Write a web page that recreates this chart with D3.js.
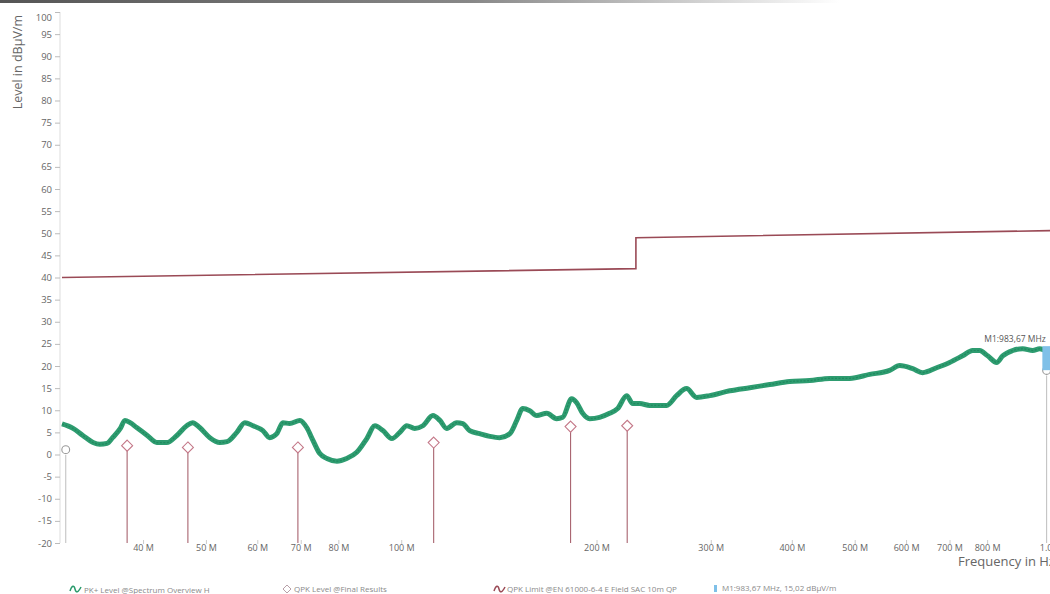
<!DOCTYPE html>
<html><head><meta charset="utf-8">
<script src="https://cdn.jsdelivr.net/npm/d3@7"></script>
<style>
html,body{margin:0;padding:0;background:#fff;overflow:hidden}
text{font-family:"Open Sans","Noto Sans",sans-serif}
</style></head>
<body><svg id="c" width="1050" height="594"></svg>
<script>
// ---- data ----
const traceFreq = [30.0,31.2,32.3,33.5,34.3,35.2,35.9,36.9,37.5,38.2,39.1,40.6,42.0,43.5,45.1,46.7,47.7,48.9,50.7,52.5,53.9,55.8,57.4,59.1,61.2,62.7,64.3,65.7,67.3,69.8,71.5,73.1,74.9,76.8,79.6,82.4,85.4,88.5,91.1,93.7,96.7,99.5,102.0,104.9,108.0,111.9,114.7,117.5,121.8,124.4,127.5,132.1,136.9,141.8,147.0,150.7,153.9,157.8,161.7,167.6,173.6,177.4,183.1,186.4,190.4,195.2,202.2,209.5,215.6,222.6,227.4,233.1,241.5,250.2,256.5,265.7,275.3,285.3,298.9,320.9,344.5,369.8,397.0,426.2,457.5,491.1,527.3,566.0,586.5,614.2,636.3,668.7,700.2,733.2,759.9,779.1,801.6,827.6,845.4,876.0,907.7,940.6,964.2,988.5,1000];
const traceLevel = [6.9,5.9,4.3,2.7,2.3,2.5,3.8,5.9,7.7,7.2,6.1,4.3,2.7,2.7,4.3,6.5,7.2,6.1,3.8,2.7,2.9,5.0,7.2,6.5,5.4,3.8,4.7,7.2,7.0,7.7,6.1,3.2,0.2,-0.9,-1.5,-0.9,0.5,3.6,6.5,5.4,3.6,5.0,6.5,5.9,6.5,8.8,7.7,5.9,7.2,7.0,5.4,4.7,4.1,3.8,4.7,7.7,10.4,9.9,8.8,9.3,8.1,8.4,12.6,11.7,9.3,8.1,8.4,9.3,10.4,13.3,11.5,11.5,11.1,11.1,11.1,13.3,14.9,12.9,13.3,14.4,15.1,15.8,16.5,16.7,17.2,17.2,18.1,19.0,20.1,19.4,18.5,19.6,20.8,22.3,23.5,23.5,22.3,20.8,22.3,23.5,23.9,23.5,23.9,23.5,23.6];
const limitFreq = [30, 230, 230, 1000];
const limitLevel = [40, 42, 49, 50.6];
const qpkFreq = [30.4, 37.8, 46.9, 69.3, 112.2, 182.4, 223.0, 988.0];
const qpkLevel = [1.1, 2.0, 1.6, 1.6, 2.7, 6.3, 6.5, 19.0];
const qpkHighlight = [true, false, false, false, false, false, false, true];
const markerFreq = 983.67;
const markerLabel = "M1:983,67 MHz";
const yTicks = [100,95,90,85,80,75,70,65,60,55,50,45,40,35,30,25,20,15,10,5,0,-5,-10,-15,-20];
const xTicks = [40,50,60,70,80,100,200,300,400,500,600,700,800,1000];
const xTickLabels = ["40 M","50 M","60 M","70 M","80 M","100 M","200 M","300 M","400 M","500 M","600 M","700 M","800 M","1.0 G"];
const legendItems = ["PK+ Level @Spectrum Overview H","QPK Level @Final Results","QPK Limit @EN 61000-6-4 E Field SAC 10m QP","M1:983,67 MHz, 15,02 dBµV/m"];

// ---- chart ----
const svg = d3.select("#c");
const x = d3.scaleLog().domain([30,1000]).range([62,1050]);
const y = d3.scaleLinear().domain([-20,100]).range([543,12]);

// photo top shading
const defs = svg.append("defs");
const g1 = defs.append("linearGradient").attr("id","topg");
g1.append("stop").attr("offset","0").attr("stop-color","#555");
g1.append("stop").attr("offset","0.45").attr("stop-color","#888");
g1.append("stop").attr("offset","0.8").attr("stop-color","#fff");
svg.append("rect").attr("x",0).attr("y",0).attr("width",1050).attr("height",3).attr("fill","url(#topg)");

// y axis
const yAxis = svg.append("g").attr("transform","translate(60,0)")
  .call(d3.axisLeft(y).tickValues(yTicks).tickSize(5).tickPadding(3).tickFormat(d=>d));
yAxis.select(".domain").attr("stroke","#ddd").attr("d","M0,12V543");
yAxis.selectAll(".tick line").attr("stroke","#bbb");
yAxis.selectAll(".tick text").attr("fill","#666").attr("font-size","9.5px");
yAxis.selectAll(".tick").filter(d=>d===100).select("text").attr("dy","0.9em");

svg.append("text").attr("transform","translate(22,15) rotate(-90)")
  .attr("text-anchor","end").attr("fill","#666").attr("font-size","12.5px")
  .text("Level in dBµV/m");

// x axis
const xAxis = svg.append("g").attr("transform","translate(0,540)")
  .call(d3.axisBottom(x).tickValues(xTicks).tickSize(4).tickPadding(1)
    .tickFormat((d,i)=>xTickLabels[i]));
xAxis.select(".domain").remove();
xAxis.selectAll(".tick line").attr("stroke","#ccc");
xAxis.selectAll(".tick text").attr("fill","#666").attr("font-size","9px");

svg.append("text").attr("x",958).attr("y",566).attr("fill","#666")
  .attr("font-size","13px").text("Frequency in Hz");

// limit line
const limitData = limitFreq.map((f,i)=>[f,limitLevel[i]]);
svg.append("path").datum(limitData)
  .attr("fill","none").attr("stroke","#9a4a56").attr("stroke-width",1.6)
  .attr("d", d3.line().x(d=>x(d[0])).y(d=>y(d[1])));

// QPK stems
const qpk = qpkFreq.map((f,i)=>({f, v:qpkLevel[i], h:qpkHighlight[i]}));
svg.append("g").selectAll("line").data(qpk).join("line")
  .attr("x1",d=>x(d.f)).attr("x2",d=>x(d.f))
  .attr("y1",d=>y(d.v)+5).attr("y2",y(-20))
  .attr("stroke",d=>d.h?"#c4c4c4":"#a8636f").attr("stroke-width",1.1);

// trace
const traceData = traceFreq.map((f,i)=>[f,traceLevel[i]]);
const tl = d3.line().x(d=>x(d[0])).y(d=>y(d[1])).curve(d3.curveMonotoneX);
svg.append("path").datum(traceData)
  .attr("fill","none").attr("stroke","#2e9c70").attr("stroke-width",5)
  .attr("stroke-linejoin","round").attr("d", tl);
svg.append("path").datum(traceData)
  .attr("fill","none").attr("stroke","#1f8a5e").attr("stroke-width",1.2)
  .attr("stroke-dasharray","2,1.5").attr("d", tl);

// QPK markers
const qg = svg.append("g");
qg.selectAll("path").data(qpk).join("path")
  .attr("transform",d=>`translate(${x(d.f)},${y(d.v)})`)
  .attr("d",d=>d.h ? d3.symbol(d3.symbolCircle,48)() : "M0,-5.5L5.5,0L0,5.5L-5.5,0Z")
  .attr("fill","#fff").attr("stroke",d=>d.h?"#999":"#c47888").attr("stroke-width",1.1);

// marker M1
const mx = x(markerFreq);
const interp = d3.scaleLog().domain(traceFreq).range(traceLevel);
const mv = interp(markerFreq);
svg.append("rect").attr("x",mx-3).attr("y",y(mv)-4).attr("width",10).attr("height",24)
  .attr("fill","#7fc0e8");
svg.append("text").attr("x",mx-61).attr("y",y(mv)-8)
  .attr("fill","#555").attr("font-size","8.5px").text(markerLabel);

// legend
const lg = svg.append("g").attr("font-size","8px").attr("fill","#8a8a8a");
const wave = "M0,3 C2,-3 4,-3 5,1 C6,5 8,5 11,-1";
lg.append("path").attr("d",wave).attr("transform","translate(70,588)")
  .attr("fill","none").attr("stroke","#2a9a6c").attr("stroke-width",1.5);
lg.append("text").attr("x",84).attr("y",593).text(legendItems[0]);
lg.append("path").attr("d","M0,-4L4,0L0,4L-4,0Z").attr("transform","translate(287,589)")
  .attr("fill","#fff").attr("stroke","#b8a0a8").attr("stroke-width",1);
lg.append("text").attr("x",294).attr("y",592).text(legendItems[1]);
lg.append("path").attr("d",wave).attr("transform","translate(494,588)")
  .attr("fill","none").attr("stroke","#9a4a56").attr("stroke-width",1.5);
lg.append("text").attr("x",507).attr("y",592).text(legendItems[2]);
lg.append("rect").attr("x",714).attr("y",585).attr("width",3).attr("height",7).attr("fill","#7fc0e8");
lg.append("text").attr("x",722).attr("y",591).text(legendItems[3]);
</script></body></html>
